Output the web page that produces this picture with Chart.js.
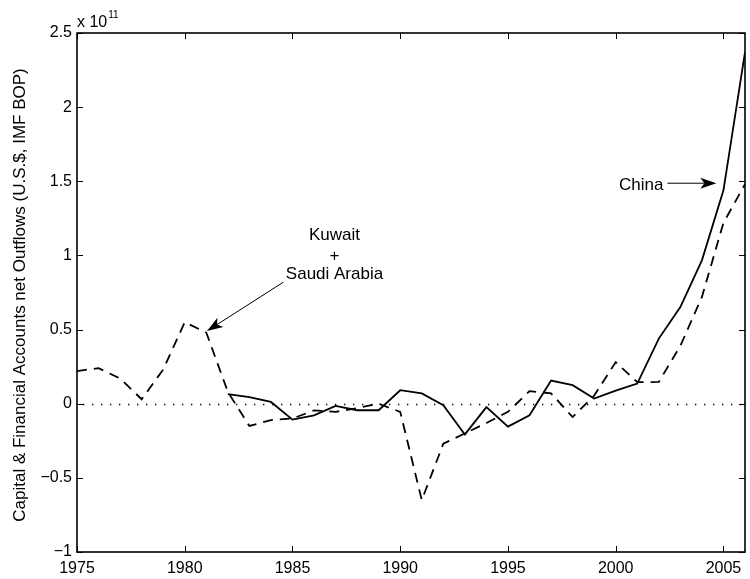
<!DOCTYPE html>
<html>
<head>
<meta charset="utf-8">
<script src="https://cdn.jsdelivr.net/npm/chart.js@4/dist/chart.umd.min.js"></script>
<style>
html,body{margin:0;padding:0;background:#fff;}
#wrap{width:750px;height:579px;}
</style>
</head>
<body>
<div id="wrap"><canvas id="c" width="750" height="579"></canvas></div>
<script>
// Values in units of 10^11 U.S.$
const ksaYears = [1975,1976,1977,1978,1979,1980,1981,1982,1983,1984,1985,1986,1987,1988,1989,1990,1991,1992,1993,1994,1995,1996,1997,1998,1999,2000,2001,2002,2003,2004,2005,2006];
const ksaValues = [0.22,0.24,0.17,0.03,0.23,0.55,0.48,0.08,-0.15,-0.11,-0.10,-0.045,-0.055,-0.03,0.0,-0.055,-0.65,-0.27,-0.20,-0.13,-0.055,0.085,0.07,-0.09,0.055,0.28,0.145,0.147,0.39,0.72,1.22,1.48];
const chinaYears = [1982,1983,1984,1985,1986,1987,1988,1989,1990,1991,1992,1993,1994,1995,1996,1997,1998,1999,2000,2001,2002,2003,2004,2005,2006];
const chinaValues = [0.064,0.045,0.012,-0.107,-0.078,-0.015,-0.044,-0.044,0.091,0.069,-0.01,-0.207,-0.023,-0.154,-0.078,0.156,0.125,0.035,0.088,0.136,0.439,0.652,0.967,1.439,2.37];
const xTickValues = [1975,1980,1985,1990,1995,2000,2005];
const yTickValues = [-1,-0.5,0,0.5,1,1.5,2,2.5];
const yTitle = 'Capital & Financial Accounts net Outflows (U.S.$, IMF BOP)';

const FONT = "'Liberation Sans', Arial, Helvetica, sans-serif";
Chart.defaults.font.family = FONT;
Chart.defaults.color = '#000';

const toPts = (xs, ys) => xs.map((x, i) => ({x: x, y: ys[i]}));

function arrow(ctx, x0, y0, x1, y1) {
  const ang = Math.atan2(y1 - y0, x1 - x0);
  const L = 16, W = 5.5, N = 4;
  ctx.beginPath();
  ctx.moveTo(x0, y0);
  ctx.lineTo(x1 - (L - N) * Math.cos(ang), y1 - (L - N) * Math.sin(ang));
  ctx.lineWidth = 1;
  ctx.strokeStyle = '#000';
  ctx.stroke();
  const bx = x1 - L * Math.cos(ang), by = y1 - L * Math.sin(ang);
  const px = -Math.sin(ang), py = Math.cos(ang);
  ctx.beginPath();
  ctx.moveTo(x1, y1);
  ctx.lineTo(bx + W * px, by + W * py);
  ctx.lineTo(x1 - (L - N) * Math.cos(ang), y1 - (L - N) * Math.sin(ang));
  ctx.lineTo(bx - W * px, by - W * py);
  ctx.closePath();
  ctx.fillStyle = '#000';
  ctx.fill();
}

const decor = {
  id: 'decor',
  beforeDatasetsDraw(chart) {
    const {ctx, chartArea: a, scales: {y}} = chart;
    const y0 = Math.round(y.getPixelForValue(0)) + 0.5;
    ctx.save();
    ctx.setLineDash([1.3, 7.7]);
    ctx.lineWidth = 1.3;
    ctx.strokeStyle = '#000';
    ctx.beginPath();
    ctx.moveTo(a.left + 6, y0);
    ctx.lineTo(a.right, y0);
    ctx.stroke();
    ctx.restore();
  },
  afterDatasetsDraw(chart) {
    const {ctx, chartArea: a, scales: {x, y}} = chart;
    ctx.save();
    ctx.strokeStyle = '#000';
    ctx.lineWidth = 1;
    const T = 6;
    ctx.beginPath();
    xTickValues.forEach(v => {
      const px = Math.round(x.getPixelForValue(v)) + 0.5;
      ctx.moveTo(px, a.bottom); ctx.lineTo(px, a.bottom - T);
      ctx.moveTo(px, a.top); ctx.lineTo(px, a.top + T);
    });
    yTickValues.forEach(v => {
      const py = Math.round(y.getPixelForValue(v)) + 0.5;
      ctx.moveTo(a.left, py); ctx.lineTo(a.left + T, py);
      ctx.moveTo(a.right, py); ctx.lineTo(a.right - T, py);
    });
    ctx.stroke();
    ctx.lineWidth = 1.6;
    ctx.strokeRect(a.left, a.top, a.right - a.left, a.bottom - a.top);

    // exponent label
    ctx.fillStyle = '#000';
    ctx.textAlign = 'left';
    ctx.textBaseline = 'alphabetic';
    ctx.font = '16px ' + FONT;
    ctx.fillText('x 10', a.left, a.top - 6);
    const w = ctx.measureText('x 10').width;
    ctx.font = '10px ' + FONT;
    ctx.fillText('11', a.left + w + 1, a.top - 15);

    // y title
    ctx.save();
    ctx.font = '17px ' + FONT;
    ctx.translate(20, 295);
    ctx.rotate(-Math.PI / 2);
    ctx.textAlign = 'center';
    ctx.textBaseline = 'middle';
    ctx.fillText(yTitle, 0, 0);
    ctx.restore();

    // annotations
    ctx.font = '17px ' + FONT;
    ctx.textAlign = 'center';
    ctx.textBaseline = 'middle';
    const kx = x.getPixelForValue(1986.95);
    ctx.fillText('Kuwait', kx, y.getPixelForValue(1.135));
    ctx.fillText('+', kx, y.getPixelForValue(0.995));
    ctx.fillText('Saudi Arabia', kx, y.getPixelForValue(0.87));
    arrow(ctx, x.getPixelForValue(1984.58), y.getPixelForValue(0.82),
               x.getPixelForValue(1981.03), y.getPixelForValue(0.49));

    ctx.textAlign = 'right';
    ctx.fillText('China', x.getPixelForValue(2002.21), y.getPixelForValue(1.475));
    arrow(ctx, x.getPixelForValue(2002.40), y.getPixelForValue(1.487),
               x.getPixelForValue(2004.67), y.getPixelForValue(1.487));
    ctx.restore();
  }
};

new Chart(document.getElementById('c'), {
  type: 'line',
  data: {
    datasets: [
      {label: 'China', data: toPts(chinaYears, chinaValues), borderColor: '#000', borderWidth: 1.8,
       pointRadius: 0, tension: 0, fill: false},
      {label: 'Kuwait + Saudi Arabia', data: toPts(ksaYears, ksaValues), borderColor: '#000', borderWidth: 1.8,
       borderDash: [10, 7], pointRadius: 0, tension: 0, fill: false}
    ]
  },
  options: {
    responsive: false,
    animation: false,
    layout: {padding: {top: 33, right: 5, left: 0, bottom: 0}},
    plugins: {legend: {display: false}, tooltip: {enabled: false}},
    scales: {
      x: {
        type: 'linear', min: 1975, max: 2006,
        grid: {display: false, drawTicks: false}, border: {display: false},
        afterFit: s => { s.height = 27; },
        afterBuildTicks: s => { s.ticks = xTickValues.map(v => ({value: v})); },
        ticks: {font: {size: 16}, color: '#000', padding: 7, maxRotation: 0, autoSkip: false,
                callback: v => String(v)}
      },
      y: {
        type: 'linear', min: -1, max: 2.5,
        grid: {display: false, drawTicks: false}, border: {display: false},
        afterFit: s => { s.width = 77; },
        afterBuildTicks: s => { s.ticks = yTickValues.map(v => ({value: v})); },
        ticks: {font: {size: 16}, color: '#000', padding: 5,
                callback: v => (v < 0 ? '\u2212' + Math.abs(v) : String(v))}
      }
    }
  },
  plugins: [decor]
});
</script>
</body>
</html>
